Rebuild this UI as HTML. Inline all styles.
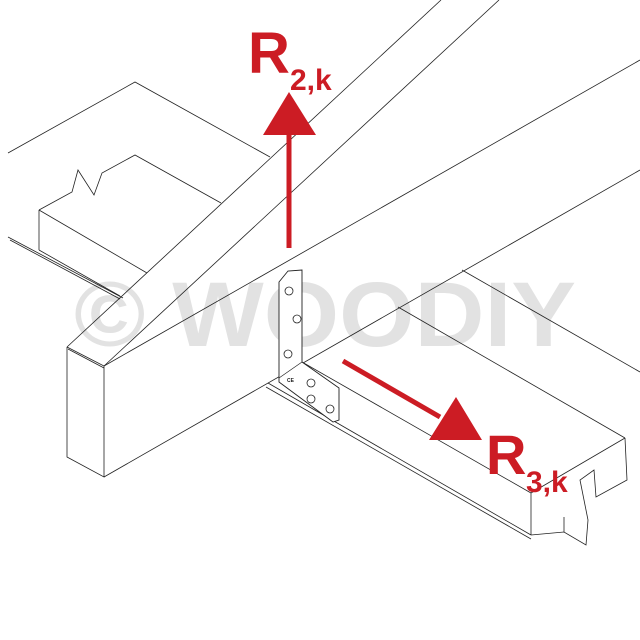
<!DOCTYPE html>
<html><head><meta charset="utf-8"><style>html,body{margin:0;padding:0;background:#fff}svg{display:block}</style></head>
<body>
<svg width="640" height="640" viewBox="0 0 640 640" xmlns="http://www.w3.org/2000/svg">
<rect width="640" height="640" fill="#fff"/>
<text x="74" y="346" font-family="Liberation Sans, sans-serif" font-weight="bold" font-size="92" fill="#e2e2e2" textLength="502" lengthAdjust="spacingAndGlyphs">© WOODIY</text>
<g fill="none" stroke="#222" stroke-width="0.8">
<!-- left board -->
<polyline points="8,153 135,82 270,157"/>
<line x1="8" y1="237" x2="123" y2="298"/>
<line x1="10" y1="240" x2="120" y2="299"/>
<!-- notched block -->
<polyline points="39,210 72,192 78,170 94,195 102,173 135,155 221,203"/>
<line x1="39" y1="210" x2="147" y2="273"/>
<line x1="39" y1="210" x2="39" y2="250"/>
<line x1="39" y1="250" x2="120" y2="296"/>
<!-- diagonal beam -->
<line x1="441" y1="0" x2="67" y2="347"/>
<line x1="499" y1="0" x2="104" y2="366"/>
<!-- beam end box -->
<polyline points="67,347 104,366 104,477 67,457 67,347"/>
<line x1="68" y1="349" x2="104" y2="368"/>
<!-- rafter lines -->
<line x1="640" y1="60" x2="104" y2="366"/>
<line x1="640" y1="170" x2="104" y2="477"/>
<!-- joist -->
<line x1="462" y1="270" x2="640" y2="372"/>
<line x1="398" y1="307" x2="625" y2="438"/>
<line x1="302" y1="362" x2="531" y2="493"/>
<line x1="268" y1="383" x2="531" y2="535"/>
<line x1="266" y1="387" x2="531" y2="539"/>
<line x1="531" y1="493" x2="625" y2="438"/>
<line x1="531" y1="493" x2="531" y2="535"/>
<polyline points="625,438 627,480 596,497 594,470 580,480 588,520 586,545 564,532 531,535"/>
<line x1="564" y1="517" x2="564" y2="532"/>
</g>
<!-- plate -->
<polygon points="279,282 288,271 302,270 302,362 339,388 339,420 333,422 279,382" fill="#fff" stroke="#222" stroke-width="0.9"/>
<line x1="279" y1="378" x2="302" y2="362" stroke="#222" stroke-width="0.7"/>
<g fill="#fff" stroke="#222" stroke-width="0.8">
<circle cx="289" cy="291" r="4"/><circle cx="297" cy="319" r="4"/><circle cx="288" cy="354" r="4"/>
<circle cx="311" cy="383" r="4"/><circle cx="311" cy="399" r="4"/><circle cx="330" cy="409" r="4"/>
</g>
<text x="287" y="382" font-family="Liberation Sans, sans-serif" font-size="5" font-weight="bold" fill="#222">CE</text>
<!-- R2 arrow -->
<rect x="286.5" y="130" width="5" height="118" fill="#cc1c24"/>
<polygon points="289,92 263,135 316,135" fill="#cc1c24"/>
<text x="248" y="73" font-family="Liberation Sans, sans-serif" font-weight="bold" font-size="58" fill="#cc1c24">R</text>
<text x="290" y="90" font-family="Liberation Sans, sans-serif" font-weight="bold" font-size="30" fill="#cc1c24">2,k</text>
<!-- R3 arrow -->
<line x1="343" y1="361" x2="440" y2="417" stroke="#cc1c24" stroke-width="5"/>
<polygon points="456,397 429,440 482,440" fill="#cc1c24"/>
<text x="486" y="474" font-family="Liberation Sans, sans-serif" font-weight="bold" font-size="56" fill="#cc1c24">R</text>
<text x="526" y="492" font-family="Liberation Sans, sans-serif" font-weight="bold" font-size="30" fill="#cc1c24">3,k</text>
</svg>
</body></html>
